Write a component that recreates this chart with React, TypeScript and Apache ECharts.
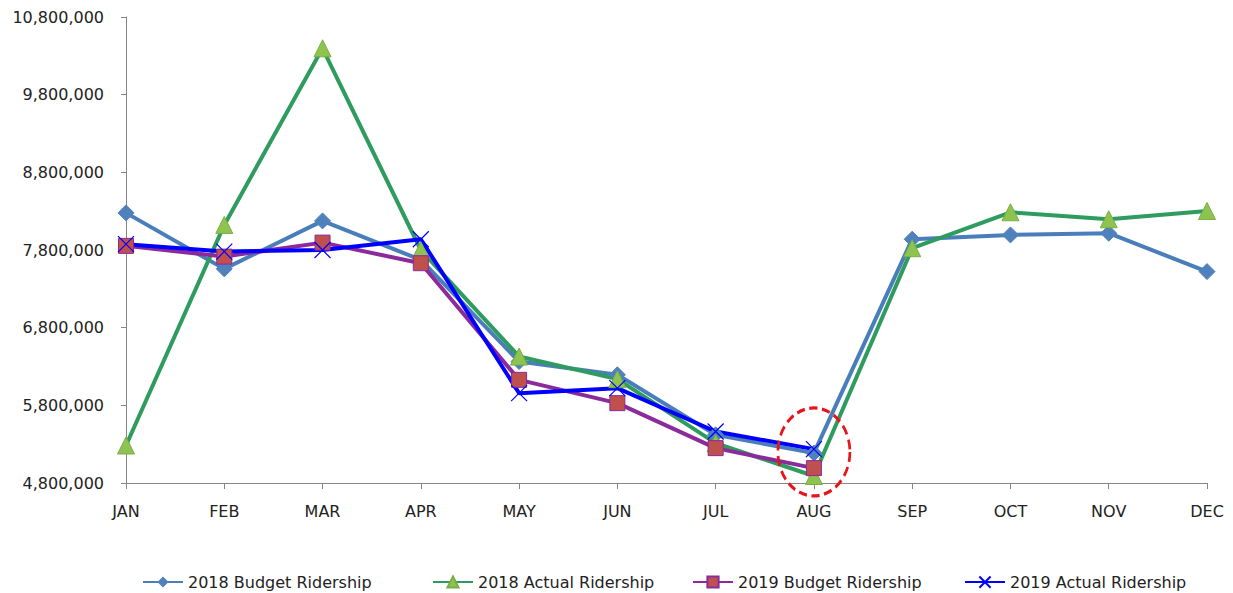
import React, { useEffect, useRef } from "react";
import * as echarts from "echarts";

const months = ["JAN", "FEB", "MAR", "APR", "MAY", "JUN", "JUL", "AUG", "SEP", "OCT", "NOV", "DEC"];
const budget2018 = [8278000, 7557000, 8175000, 7673000, 6364000, 6193000, 5420000, 5185000, 7939000, 7994000, 8016000, 7522000];
const actual2018 = [5283000, 8123000, 10397000, 7800000, 6428000, 6137000, 5313000, 4890000, 7823000, 8286000, 8196000, 8303000];
const budget2019 = [7853000, 7715000, 7895000, 7630000, 6128000, 5828000, 5249000, 4992000];
const actual2019 = [7875000, 7780000, 7800000, 7939000, 5957000, 6021000, 5463000, 5236000];
const highlightMonth = "AUG";
const highlightValue = 5200000;

const FONT = "DejaVu Sans";
const crossPath = "path://M0,0L10,10M10,0L0,10";

export default function App() {
  const ref = useRef<HTMLDivElement>(null);
  useEffect(() => {
    if (!ref.current) return;
    document.body.style.margin = "0";
    document.body.style.overflow = "hidden";
    const chart = echarts.init(ref.current, null, { renderer: "svg" });
    const legendText = { fontFamily: FONT, fontSize: 16, color: "#222" };
    const mkLegend = (name: string, left: number) => ({
      data: [name],
      left,
      top: 574,
      padding: 0,
      itemWidth: 40,
      itemHeight: 14,
      textStyle: legendText,
      itemGap: 4,
    });
    chart.setOption({
      animation: false,
      backgroundColor: "#fff",
      grid: { left: 126, right: 26, top: 17, bottom: 110, containLabel: false },
      legend: [
        mkLegend("2018 Budget Ridership", 142),
        mkLegend("2018 Actual Ridership", 432),
        mkLegend("2019 Budget Ridership", 692),
        mkLegend("2019 Actual Ridership", 964),
      ],
      xAxis: {
        type: "category",
        data: months,
        boundaryGap: false,
        axisLine: { lineStyle: { color: "#868686", width: 1 } },
        axisTick: { show: true, alignWithLabel: true, length: 6, lineStyle: { color: "#868686" } },
        axisLabel: { fontFamily: FONT, fontSize: 16, color: "#222", margin: 20 },
        splitLine: { show: false },
      },
      yAxis: {
        type: "value",
        min: 4800000,
        max: 10800000,
        interval: 1000000,
        axisLine: { show: true, lineStyle: { color: "#868686", width: 1 } },
        axisTick: { show: true, length: 5, lineStyle: { color: "#868686" } },
        axisLabel: {
          fontFamily: FONT,
          fontSize: 16,
          color: "#222",
          margin: 22,
          formatter: (v: number) => v.toLocaleString("en-US"),
        },
        splitLine: { show: false },
      },
      series: [
        {
          name: "2018 Budget Ridership",
          type: "line",
          data: budget2018,
          symbol: "diamond",
          symbolSize: 16,
          lineStyle: { color: "#4a7ebb", width: 4 },
          itemStyle: { color: "#4f81bd", borderColor: "#4f81bd" },
        },
        {
          name: "2018 Actual Ridership",
          type: "line",
          data: actual2018,
          symbol: "triangle",
          symbolSize: 17,
          lineStyle: { color: "#2e9b5f", width: 4 },
          itemStyle: { color: "#8fc34f", borderColor: "#7aae45", borderWidth: 1 },
        },
        {
          name: "2019 Budget Ridership",
          type: "line",
          data: budget2019,
          symbol: "rect",
          symbolSize: 15,
          lineStyle: { color: "#8b2a9a", width: 4 },
          itemStyle: { color: "#c0504d", borderColor: "#8b2a9a", borderWidth: 1 },
        },
        {
          name: "2019 Actual Ridership",
          type: "line",
          data: actual2019,
          symbol: crossPath,
          symbolSize: 16,
          lineStyle: { color: "#0000ff", width: 4 },
          itemStyle: { color: "none", borderColor: "#0000ff", borderWidth: 1.2 },
          markPoint: {
            silent: true,
            symbol: "circle",
            symbolSize: [72, 88],
            label: { show: false },
            itemStyle: {
              color: "transparent",
              borderColor: "#e8141a",
              borderWidth: 3,
              borderType: [9, 5],
            },
            data: [{ coord: [highlightMonth, highlightValue] }],
          },
        },
      ],
    });
    return () => chart.dispose();
  }, []);
  return (
    <div
      ref={ref}
      style={{ position: "absolute", left: 0, top: 0, width: 1233, height: 593 }}
    />
  );
}
